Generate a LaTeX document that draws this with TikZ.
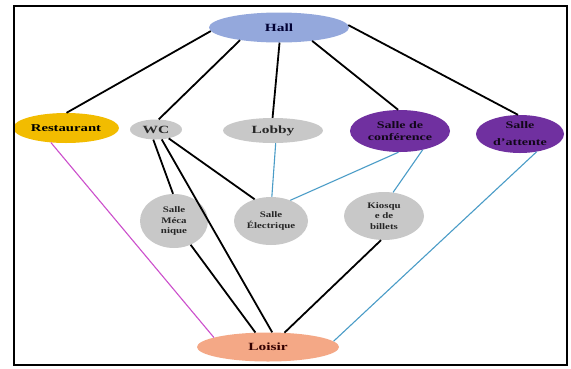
\documentclass[tikz,border=0pt]{standalone}
\usepackage{fontspec}
\setmainfont{Liberation Serif}[FakeStretch=1.4]
\newfontfamily\smallface{Liberation Serif}[FakeStretch=1.28]
\usetikzlibrary{shapes.geometric}
\definecolor{hallblue}{HTML}{94A8DC}
\definecolor{gold}{HTML}{F2BC00}
\definecolor{roomgrey}{HTML}{C8C8C8}
\definecolor{roompurple}{HTML}{7030A0}
\definecolor{salmon}{HTML}{F4A886}
\definecolor{linkblue}{HTML}{4A9CC7}
\definecolor{linkpink}{HTML}{CC4FCC}
\tikzset{
  room/.style={ellipse, inner sep=0pt, align=center, font=\bfseries},
  small room/.style={room, fill=roomgrey, text=black!85,
    font=\smallface\bfseries\fontsize{8.5}{10.5}\selectfont},
  solid link/.style={line width=1.8pt, black},
  blue link/.style={line width=1.1pt, linkblue},
  pink link/.style={line width=1.1pt, linkpink},
}
\begin{document}
\begin{tikzpicture}[x=1pt,y=-1pt]
\useasboundingbox (0,0) rectangle (571,368);
\fill[white] (0,0) rectangle (571,368);

% rooms
\node[room, fill=hallblue, minimum width=140pt, minimum height=30pt,
      font=\bfseries\fontsize{11}{12}\selectfont, text=black!80!blue] (hall) at (279,27.5) {Hall};
\node[room, fill=gold, minimum width=106pt, minimum height=30pt,
      font=\bfseries\fontsize{10.5}{11}\selectfont] (rest) at (66,128) {Restaurant};
\node[room, fill=roomgrey, minimum width=52pt, minimum height=20pt,
      font=\bfseries\fontsize{11}{12}\selectfont, text=black!85] (wc) at (156,129.5) {WC};
\node[room, fill=roomgrey, minimum width=100pt, minimum height=25pt,
      font=\bfseries\fontsize{11}{12}\selectfont, text=black!85] (lobby) at (273,130.5) {Lobby};
\node[room, fill=roompurple, minimum width=100pt, minimum height=42pt,
      font=\bfseries\fontsize{10}{12}\selectfont, text=black!85!roompurple] (conf) at (400,131) {Salle de\\conférence};
\node[room, fill=roompurple, minimum width=88pt, minimum height=38pt,
      font=\bfseries\fontsize{10}{17}\selectfont, text=black!85!roompurple] (att) at (520,134) {Salle\\d'attente};
\node[small room, minimum width=68pt, minimum height=54pt] (meca) at (174,221) {Salle\\Méca\\nique};
\node[small room, minimum width=74pt, minimum height=48pt] (elec) at (271,221) {Salle\\Électrique};
\node[small room, minimum width=80pt, minimum height=48pt] (kiosk) at (384,216) {Kiosqu\\e de\\billets};
\node[room, fill=salmon, minimum width=142pt, minimum height=29pt,
      font=\bfseries\fontsize{11}{12}\selectfont, text=black!80!red] (loisir) at (268,347) {Loisir};

% links from the hall
\draw[solid link] (hall.183) -- (rest.88);
\draw[solid link] (hall.198) -- (wc.75);
\draw[solid link] (hall.272) -- (lobby.92);
\draw[solid link] (hall.338) -- (conf.95);
\draw[solid link] (hall.2) -- (att.96);

% links from the WC
\draw[solid link] (wc.255) -- (meca.92);
\draw[solid link] (wc.300) -- (loisir.74);
\draw[solid link] (wc.325) -- (elec.127);

% links to the leisure area
\draw[solid link] (meca.305) -- (loisir.131);
\draw[solid link] (kiosk.263) -- (loisir.41);
\draw[pink link] (rest.224) -- (loisir.170);
\draw[blue link] (att.313) -- (loisir.5);

% blue service links
\draw[blue link] (lobby.282) -- (elec.88);
\draw[blue link] (conf.266) -- (elec.47);
\draw[blue link] (conf.320) -- (kiosk.69);

% frame, drawn last so it trims the restaurant ellipse
\fill[white] (0,0) rectangle (13,368);
\draw[line width=2.6pt] (14,6) rectangle (567,365);
\end{tikzpicture}
\end{document}
